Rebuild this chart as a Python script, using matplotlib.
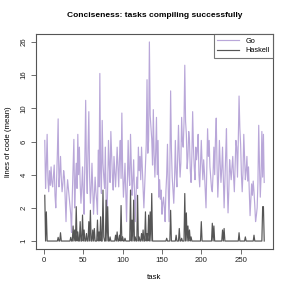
import numpy as np
import matplotlib
matplotlib.use("Agg")
import matplotlib.pyplot as plt

plt.rcParams['font.family'] = ['Liberation Sans', 'DejaVu Sans']

# y axis tick labels (equally spaced on the chart)
tick_values = [1, 2, 4, 6, 10, 16, 26]

# Go: mean lines of code per task (tasks 1..280)
go = [
    6.1, 3.0, 4.5, 6.7, 3.6, 2.8, 4.2, 3.2, 4.4, 3.4,
    3.1, 3.9, 4.5, 2.6, 2.0, 3.5, 5.2, 8.5, 3.1, 4.0,
    5.0, 3.7, 2.8, 3.3, 4.2, 3.8, 2.4, 1.5, 2.7, 3.6,
    3.0, 2.5, 2.1, 1.75, 1.2, 2.6, 4.3, 6.2, 2.0, 3.4,
    4.6, 3.0, 6.7, 4.0, 5.6, 3.3, 2.2, 3.1, 4.4, 2.6,
    1.75, 4.8, 11.2, 4.1, 2.7, 5.5, 9.5, 3.8, 2.2, 3.0,
    4.6, 2.9, 1.75, 2.6, 3.8, 2.8, 2.3, 1.75, 5.4, 3.1,
    16.4, 4.2, 2.7, 8.3, 4.6, 3.8, 3.0, 5.6, 2.4, 1.5,
    3.3, 6.1, 4.5, 3.4, 7.0, 5.2, 3.8, 2.9, 5.0, 4.1,
    3.1, 4.3, 5.6, 4.4, 3.1, 4.9, 6.1, 3.7, 9.3, 4.2,
    2.5, 3.4, 4.6, 2.7, 1.5, 3.6, 6.1, 4.0, 3.2, 6.7,
    4.4, 2.6, 3.5, 4.8, 2.9, 1.5, 2.6, 3.8, 3.0, 5.6,
    4.2, 5.0, 3.6, 5.6, 4.3, 3.0, 2.0, 3.1, 4.4, 5.8,
    15.0, 5.2, 6.1, 26.0, 9.0, 7.5, 6.2, 4.5, 9.8, 5.1,
    3.8, 5.3, 8.7, 4.0, 6.1, 2.5, 3.6, 2.4, 2.9, 1.75,
    2.2, 2.5, 2.0, 1.5, 2.8, 4.0, 5.8, 3.0, 1.5, 4.2,
    12.8, 5.5, 3.8, 2.9, 2.2, 3.6, 6.1, 4.1, 3.1, 4.9,
    7.7, 5.0, 3.8, 4.6, 8.7, 6.0, 5.6, 8.0, 18.5, 8.2,
    6.7, 4.3, 5.0, 7.0, 6.1, 4.2, 3.4, 5.0, 9.5, 5.6,
    4.4, 3.6, 5.6, 4.8, 5.4, 6.7, 4.0, 3.1, 4.5, 6.1,
    4.6, 3.6, 4.8, 4.1, 2.9, 2.0, 4.2, 7.3, 5.0, 6.1,
    4.4, 3.8, 3.0, 2.8, 4.1, 5.6, 4.0, 6.2, 8.6, 4.5,
    2.5, 3.9, 6.1, 4.6, 3.4, 4.3, 5.6, 3.8, 2.0, 3.6,
    5.1, 7.3, 3.2, 1.8, 2.9, 4.8, 4.2, 3.6, 4.4, 5.0,
    3.9, 2.8, 4.5, 6.1, 5.6, 3.8, 6.0, 11.9, 7.4, 5.8,
    4.0, 2.8, 4.1, 6.7, 4.9, 3.6, 4.2, 5.0, 3.5, 4.4,
    2.9, 1.7, 2.4, 3.3, 2.6, 3.5, 2.8, 2.1, 1.5, 1.7,
    2.0, 3.4, 7.7, 4.4, 2.5, 3.9, 7.0, 3.8, 6.7, 3.4,
]

# Haskell: 1 line for most tasks, spikes listed here (task, mean lines)
haskell_spike_tasks = [1, 3, 18, 21, 34, 37, 39, 41, 43, 46, 49, 51, 54, 57, 59,
                       62, 64, 68, 70, 72, 75, 76, 79, 81, 84, 91, 93, 96, 98,
                       100, 103, 110, 112, 114, 116, 119, 121, 124, 126, 129,
                       131, 133, 135, 137, 156, 161, 168, 172, 175, 179, 181,
                       183, 185, 187, 200, 214, 216, 227, 229, 248, 256, 267,
                       278, 279]
haskell_spike_values = [2.6, 1.84, 1.08, 1.19, 1.08, 1.37, 1.26, 2.05, 1.21, 1.5,
                        1.72, 1.26, 1.17, 1.5, 1.9, 1.26, 1.3, 1.55, 1.21, 1.66,
                        2.9, 1.09, 2.35, 2.05, 1.09, 1.13, 1.21, 1.13, 2.1, 1.09,
                        1.06, 2.9, 1.55, 2.35, 1.09, 2.6, 1.09, 1.17, 1.26, 1.84,
                        1.17, 1.72, 1.84, 2.7, 1.06, 1.9, 1.13, 1.3, 1.06, 2.7,
                        1.8, 1.37, 1.26, 1.09, 1.5, 1.45, 1.37, 1.26, 1.3, 1.19,
                        1.09, 1.13, 2.05, 2.05]

tasks = np.arange(1, len(go) + 1)
haskell = np.ones(len(go))
haskell[np.array(haskell_spike_tasks) - 1] = haskell_spike_values

# scale where the tick values sit at equal steps
LT = np.log(tick_values)
P = np.arange(len(tick_values), dtype=float)


def fwd(v):
    lv = np.log(np.clip(np.asarray(v, dtype=float), 1e-9, None))
    p = np.interp(lv, LT, P)
    p = np.where(lv < LT[0], (lv - LT[0]) / (LT[1] - LT[0]), p)
    p = np.where(lv > LT[-1], P[-1] + (lv - LT[-1]) / (LT[-1] - LT[-2]), p)
    return p


def inv(p):
    p = np.asarray(p, dtype=float)
    lv = np.interp(p, P, LT)
    lv = np.where(p < 0, LT[0] + p * (LT[1] - LT[0]), lv)
    lv = np.where(p > P[-1], LT[-1] + (p - P[-1]) * (LT[-1] - LT[-2]), lv)
    return np.exp(lv)


fig = plt.figure(figsize=(2.91, 2.91), dpi=100)
ax = fig.add_axes([36 / 291, 42 / 291, 237 / 291, 215 / 291])
ax.set_yscale('function', functions=(fwd, inv))

ax.plot(tasks, go, color='#b9a7d9', lw=0.85, label='Go')
ax.plot(tasks, haskell, color='#555555', lw=0.85, label='Haskell')

pad = 0.04 * (tasks[-1] - tasks[0])
ax.set_xlim(tasks[0] - pad, tasks[-1] + pad)
ax.set_ylim(float(inv(-0.24)), float(inv(P[-1] + 0.24)))

ax.set_yticks(tick_values)
ax.set_yticklabels([str(v) for v in tick_values], rotation=90, va='center')
ax.yaxis.set_minor_locator(plt.NullLocator())
ax.set_xticks([0, 50, 100, 150, 200, 250])

for s in ax.spines.values():
    s.set_color('#555555')
    s.set_linewidth(0.8)
ax.tick_params(direction='out', length=3.5, width=0.6, color='#555555',
               labelsize=5.6, labelcolor='#222222', pad=2.5)

ax.set_xlabel('task', fontsize=5.6, labelpad=7)
ax.set_ylabel('lines of code (mean)', fontsize=5.6, labelpad=6)
ax.set_title('Conciseness: tasks compiling successfully', fontsize=6.0,
             fontweight='bold', pad=12)

leg = ax.legend(loc='upper right', fontsize=5.3, frameon=True, fancybox=False,
                borderaxespad=0, handlelength=3, borderpad=0.5, labelspacing=0.3)
leg.get_frame().set_edgecolor('#555555')
leg.get_frame().set_linewidth(0.8)

fig.savefig('out.png', dpi=100)
